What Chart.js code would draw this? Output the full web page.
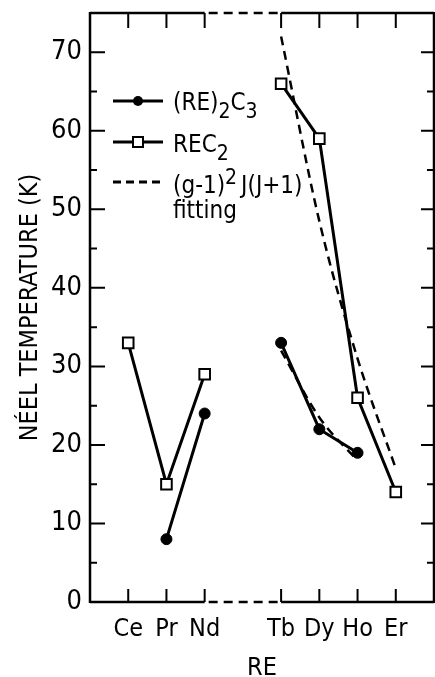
<!DOCTYPE html>
<html>
<head>
<meta charset="utf-8">
<script src="https://cdn.jsdelivr.net/npm/chart.js@4"></script>
<style>
    body { margin: 0; background: #fff; }
</style>
</head>
<body>
<canvas id="myChart" width="435" height="677"></canvas>
<script>
// categories on the x axis (blank slots are the edges and the axis break)
const categories = ['', 'Ce', 'Pr', 'Nd', '', 'Tb', 'Dy', 'Ho', 'Er', ''];

// measured Neel temperatures (K)
const rec2 = [null, 33, 15, 29, null, 66, 59, 26, 14, null];
const re2c3 = [null, null, 8, 24, null, 33, 22, 19, null, null];

// de Gennes (g-1)^2 J(J+1) fitting curves
const fitRec2 = [null, null, null, null, null, 72, 48.5, 31, 17, null];
const fitRe2c3 = [null, null, null, null, null, 32, 23.5, 18, null, null];

const yTicks = [0, 10, 20, 30, 40, 50, 60, 70];
const yMinor = [5, 15, 25, 35, 45, 55, 65];

const FONT = '"Liberation Sans Narrow", "DejaVu Sans Condensed", "Liberation Sans", sans-serif';

// frame, inward tick marks and the legend
const framePlugin = {
    id: 'frame',
    afterDraw(chart) {
        const { ctx, chartArea: a, scales } = chart;
        const x = scales.x;
        const y = scales.y;
        ctx.save();
        ctx.strokeStyle = '#000';
        ctx.lineWidth = 2.5;
        ctx.lineCap = 'butt';

        const xBreak1 = x.getPixelForValue(3);
        const xBreak2 = x.getPixelForValue(5);

        // left and right sides
        ctx.beginPath();
        ctx.moveTo(a.left, a.top - 1);
        ctx.lineTo(a.left, a.bottom + 1);
        ctx.moveTo(a.right, a.top - 1);
        ctx.lineTo(a.right, a.bottom + 1);
        // top and bottom, solid parts
        [a.top, a.bottom].forEach(yy => {
            ctx.moveTo(a.left, yy);
            ctx.lineTo(xBreak1, yy);
            ctx.moveTo(xBreak2, yy);
            ctx.lineTo(a.right, yy);
        });
        ctx.stroke();

        // dashed break between Nd and Tb
        ctx.beginPath();
        ctx.setLineDash([9, 6]);
        [a.top, a.bottom].forEach(yy => {
            ctx.moveTo(xBreak1 + 4, yy);
            ctx.lineTo(xBreak2 - 2, yy);
        });
        ctx.stroke();
        ctx.setLineDash([]);

        // x ticks, top and bottom
        ctx.lineWidth = 2;
        ctx.beginPath();
        categories.forEach((c, i) => {
            if (!c) return;
            const px = x.getPixelForValue(i);
            ctx.moveTo(px, a.top);
            ctx.lineTo(px, a.top + 15);
            ctx.moveTo(px, a.bottom);
            ctx.lineTo(px, a.bottom - 13);
        });
        // y ticks, left and right
        yTicks.forEach(v => {
            if (v === 0) return;
            const py = y.getPixelForValue(v);
            ctx.moveTo(a.left, py);
            ctx.lineTo(a.left + 15, py);
            ctx.moveTo(a.right, py);
            ctx.lineTo(a.right - 13, py);
        });
        yMinor.forEach(v => {
            const py = y.getPixelForValue(v);
            ctx.moveTo(a.left, py);
            ctx.lineTo(a.left + 7, py);
            ctx.moveTo(a.right, py);
            ctx.lineTo(a.right - 7, py);
        });
        ctx.stroke();

        // legend
        const lx1 = 113, lx2 = 163, tx = 173;
        const rows = [101, 142, 182];
        ctx.lineWidth = 3;
        ctx.beginPath();
        ctx.moveTo(lx1, rows[0]); ctx.lineTo(lx2, rows[0]);
        ctx.moveTo(lx1, rows[1]); ctx.lineTo(lx2, rows[1]);
        ctx.stroke();
        ctx.beginPath();
        ctx.setLineDash([8, 5]);
        ctx.moveTo(lx1, rows[2]); ctx.lineTo(lx2, rows[2]);
        ctx.stroke();
        ctx.setLineDash([]);

        const mx = (lx1 + lx2) / 2;
        ctx.fillStyle = '#000';
        ctx.beginPath();
        ctx.arc(mx, rows[0], 5, 0, Math.PI * 2);
        ctx.fill();
        ctx.fillStyle = '#fff';
        ctx.lineWidth = 2;
        ctx.fillRect(mx - 5, rows[1] - 5, 10, 10);
        ctx.strokeRect(mx - 5, rows[1] - 5, 10, 10);

        // text runs with sub/superscripts
        ctx.fillStyle = '#000';
        ctx.textBaseline = 'alphabetic';
        const drawRuns = (runs, x0, base) => {
            let cx = x0;
            runs.forEach(r => {
                ctx.font = (r.sub || r.sup ? '21px ' : '24px ') + FONT;
                const dy = r.sub ? 8 : (r.sup ? -9 : 0);
                ctx.fillText(r.t, cx, base + dy);
                cx += ctx.measureText(r.t).width + (r.gap || 0);
            });
        };
        drawRuns([{ t: '(RE)' }, { t: '2', sub: true }, { t: 'C' }, { t: '3', sub: true }], tx, rows[0] + 9);
        drawRuns([{ t: 'REC' }, { t: '2', sub: true }], tx, rows[1] + 10);
        drawRuns([{ t: '(g-1)' }, { t: '2', sup: true, gap: 4 }, { t: 'J(J+1)' }], tx, rows[2] + 11);
        drawRuns([{ t: 'fitting' }], tx, rows[2] + 36);

        ctx.restore();
    }
};

const ctx = document.getElementById('myChart').getContext('2d');

const myChart = new Chart(ctx, {
    type: 'line',
    data: {
        labels: categories,
        datasets: [
            {
                label: '(g-1)² J(J+1) fitting',
                data: fitRec2,
                borderColor: '#000',
                borderWidth: 2.5,
                borderDash: [9, 6],
                pointRadius: 0,
                cubicInterpolationMode: 'monotone',
            },
            {
                label: '(g-1)² J(J+1) fitting (RE)2C3',
                data: fitRe2c3,
                borderColor: '#000',
                borderWidth: 2.5,
                borderDash: [9, 6],
                pointRadius: 0,
                cubicInterpolationMode: 'monotone',
            },
            {
                label: '(RE)₂C₃',
                data: re2c3,
                borderColor: '#000',
                borderWidth: 3,
                pointStyle: 'circle',
                pointRadius: 5.5,
                pointBackgroundColor: '#000',
                pointBorderColor: '#000',
                pointBorderWidth: 1,
            },
            {
                label: 'REC₂',
                data: rec2,
                borderColor: '#000',
                borderWidth: 3,
                pointStyle: 'rect',
                pointRadius: 7.5,
                pointBackgroundColor: '#fff',
                pointBorderColor: '#000',
                pointBorderWidth: 2,
            },
        ]
    },
    options: {
        responsive: false,
        animation: false,
        devicePixelRatio: 1,
        spanGaps: false,
        layout: { autoPadding: false, padding: { top: 13, right: 1, left: 0, bottom: 0 } },
        plugins: {
            legend: { display: false },
            tooltip: { enabled: false },
        },
        scales: {
            x: {
                type: 'category',
                offset: false,
                grid: { display: false, drawTicks: false },
                border: { display: false },
                ticks: {
                    color: '#000',
                    font: { family: FONT, size: 25 },
                    padding: 12,
                    autoSkip: false,
                    maxRotation: 0,
                },
                title: {
                    display: true,
                    text: 'RE',
                    color: '#000',
                    font: { family: FONT, size: 25, lineHeight: 0.72 },
                    padding: 0,
                },
                afterFit: (scale) => {
                    scale.height = 75;
                    scale.paddingLeft = 0;
                    scale.paddingRight = 0;
                },
            },
            y: {
                min: 0,
                max: 75,
                grid: { display: false, drawTicks: false },
                border: { display: false },
                afterBuildTicks: (scale) => { scale.ticks = yTicks.map(v => ({ value: v })); },
                ticks: {
                    color: '#000',
                    font: { family: FONT, size: 27 },
                    padding: 8,
                },
                title: {
                    display: true,
                    text: 'NÉEL TEMPERATURE (K)',
                    color: '#000',
                    font: { family: FONT, size: 25, lineHeight: 1.2 },
                    padding: { top: 15, bottom: 0 },
                },
                afterFit: (scale) => {
                    scale.width = 90;
                    scale.paddingTop = 0;
                    scale.paddingBottom = 0;
                },
            },
        },
    },
    plugins: [framePlugin],
});
</script>
</body>
</html>
